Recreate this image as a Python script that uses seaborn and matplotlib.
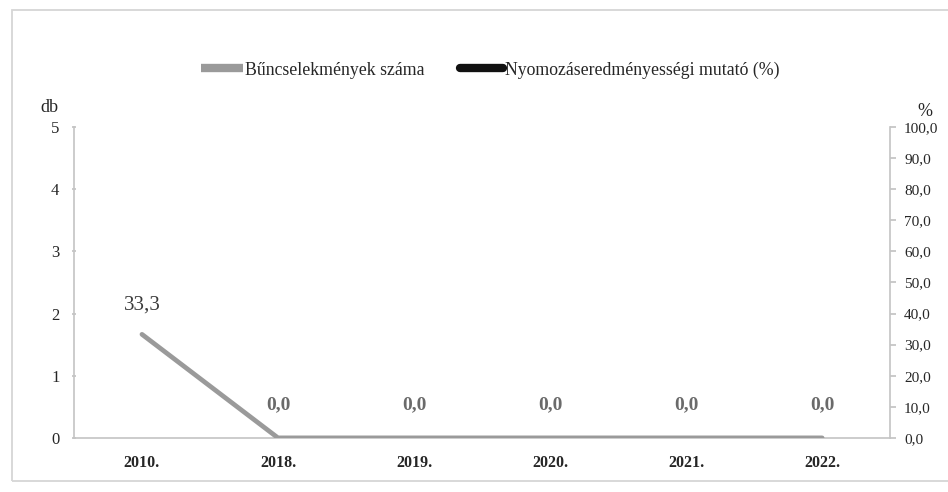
import pandas as pd
import numpy as np
import matplotlib
matplotlib.use("Agg")
import matplotlib.pyplot as plt
import seaborn as sns
from matplotlib.lines import Line2D
from matplotlib.patches import Rectangle

# Data
years = ["2010.", "2018.", "2019.", "2020.", "2021.", "2022."]
mutato = [33.3, 0.0, 0.0, 0.0, 0.0, 0.0]
db_ticks = [0, 1, 2, 3, 4, 5]
pct_ticks = [0, 10, 20, 30, 40, 50, 60, 70, 80, 90, 100]

sns.set_theme(style="white")
plt.rcParams["font.family"] = ["Liberation Serif", "DejaVu Serif"]

df = pd.DataFrame({"ev": years, "mutato": mutato})

fig = plt.figure(figsize=(9.48, 4.92), dpi=100)
ax = fig.add_axes([0.078, 0.11, 0.861, 0.632])
ax2 = ax.twinx()

sns.lineplot(data=df, x="ev", y="mutato", ax=ax2, color="#9a9a9a",
             linewidth=3.4, sort=False, solid_capstyle="round")

ax.set_xlim(-0.5, 5.5)
ax.set_ylim(0, 5)
ax2.set_ylim(0, 100)
ax.set_yticks(db_ticks)
ax.set_yticklabels([str(t) for t in db_ticks], fontsize=12)
ax2.set_yticks(pct_ticks)
ax2.set_yticklabels([f"{t:.1f}".replace(".", ",") for t in pct_ticks], fontsize=11)
ax.set_xticks(range(len(years)))
ax.set_xticklabels(years, fontsize=11.5, fontweight="bold")
ax2.set_xlabel("")
ax2.set_ylabel("")

spine_c = "#c4c4c4"
for a in (ax, ax2):
    a.spines["top"].set_visible(False)
    for s in ("left", "right", "bottom"):
        a.spines[s].set_color(spine_c)
        a.spines[s].set_linewidth(1.2)
ax.spines["right"].set_visible(False)
ax2.spines["left"].set_visible(False)
ax2.spines["bottom"].set_visible(False)

ax.tick_params(axis="y", left=True, length=3, direction="inout", color=spine_c, pad=9)
ax.tick_params(axis="x", bottom=False, pad=6)
ax2.tick_params(axis="y", right=True, length=4, direction="out", color=spine_c, pad=6)

# data labels
for i, v in enumerate(mutato):
    lbl = f"{v:.1f}".replace(".", ",")
    off = 14 if v > 0 else 18
    ax2.annotate(lbl, (i, v), xytext=(0, off), textcoords="offset points",
                 ha="center", va="bottom", fontsize=15 if v > 0 else 14,
                 color="#3a3a3a" if v > 0 else "#6a6a6a",
                 fontweight="normal" if v > 0 else "bold")

fig.text(40 / 948, 1 - 107 / 492, "db", fontsize=13, ha="left", va="center")
fig.text(925 / 948, 1 - 112 / 492, "%", fontsize=13, ha="center", va="center")

handles = [Line2D([0], [0], color="#9a9a9a", lw=6, solid_capstyle="butt"),
           Line2D([0], [0], color="#111111", lw=6, solid_capstyle="round")]
fig.legend(handles, ["Bűncselekmények száma", "Nyomozáseredményességi mutató (%)"],
           loc="center", bbox_to_anchor=(490 / 948, 1 - 70 / 492), ncol=2,
           frameon=False, fontsize=12.8, handlelength=2.4, handletextpad=0.1,
           columnspacing=2.0)

# outer frame of the chart area
fig.patches.append(Rectangle((12 / 948, 1 - 481 / 492), 1.0, (481 - 10) / 492,
                             transform=fig.transFigure, fill=False,
                             edgecolor="#d6d6d6", linewidth=1.3))

fig.savefig("out.png", dpi=100)
